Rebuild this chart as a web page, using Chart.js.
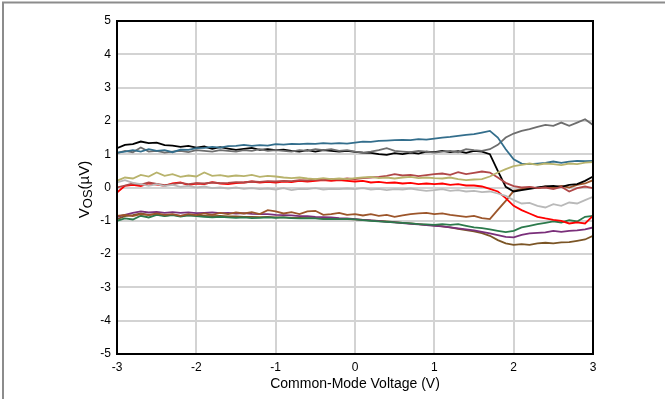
<!DOCTYPE html>
<html>
<head>
<meta charset="utf-8">
<script src="https://cdn.jsdelivr.net/npm/chart.js@4.4.1/dist/chart.umd.min.js"></script>
<style>
  body{margin:0;background:#fff;}
  #wrap{width:665px;height:399px;position:relative;}
</style>
</head>
<body>
<div id="wrap"><canvas id="c" width="665" height="399"></canvas></div>
<script>
// common-mode voltage (V), one sample every 0.1 V
const vcm=[-3.0,-2.9,-2.8,-2.7,-2.6,-2.5,-2.4,-2.3,-2.2,-2.1,-2.0,-1.9,-1.8,-1.7,-1.6,-1.5,-1.4,-1.3,-1.2,-1.1,
  -1.0,-0.9,-0.8,-0.7,-0.6,-0.5,-0.4,-0.3,-0.2,-0.1,0.0,0.1,0.2,0.3,0.4,0.5,0.6,0.7,0.8,0.9,
  1.0,1.1,1.2,1.3,1.4,1.5,1.6,1.7,1.8,1.9,2.0,2.1,2.2,2.3,2.4,2.5,2.6,2.7,2.8,2.9,3.0];

// Vos (uV) of each unit
const unitBlack=[1.18,1.28,1.30,1.38,1.33,1.35,1.27,1.26,1.22,1.25,1.20,1.23,1.16,1.21,1.17,1.13,1.16,1.19,1.13,1.15,
  1.12,1.14,1.10,1.08,1.12,1.08,1.12,1.10,1.08,1.10,1.07,1.05,1.04,1.00,0.98,1.03,1.00,1.05,1.02,1.08,
  1.06,1.10,1.06,1.09,1.04,1.10,1.08,1.00,0.50,0.02,-0.12,-0.08,-0.04,0.00,0.03,0.05,0.02,0.08,0.10,0.20,0.33];
const unitGray=[1.03,1.10,1.06,1.20,1.08,1.10,1.05,1.08,1.10,1.06,1.12,1.10,1.08,1.12,1.10,1.08,1.12,1.10,1.15,1.10,
  1.12,1.10,1.08,1.12,1.10,1.15,1.12,1.15,1.10,1.12,1.08,1.05,1.08,1.12,1.18,1.10,1.08,1.06,1.10,1.08,
  1.05,1.08,1.10,1.06,1.15,1.12,1.10,1.15,1.28,1.50,1.62,1.70,1.75,1.82,1.88,1.85,1.95,1.85,1.95,2.05,1.88];
const unitBlue=[1.05,1.08,1.12,1.08,1.15,1.10,1.12,1.06,1.14,1.13,1.18,1.19,1.22,1.20,1.24,1.25,1.28,1.25,1.27,1.26,
  1.30,1.29,1.31,1.30,1.32,1.31,1.33,1.32,1.33,1.32,1.35,1.38,1.37,1.40,1.41,1.42,1.43,1.42,1.45,1.44,
  1.47,1.50,1.52,1.55,1.58,1.60,1.65,1.70,1.50,1.15,0.85,0.72,0.70,0.72,0.74,0.78,0.74,0.78,0.80,0.79,0.80];
const unitOlive=[0.20,0.30,0.27,0.38,0.33,0.45,0.35,0.40,0.32,0.36,0.33,0.45,0.35,0.37,0.33,0.36,0.34,0.38,0.32,0.35,
  0.33,0.30,0.28,0.30,0.27,0.25,0.28,0.25,0.27,0.25,0.28,0.30,0.32,0.28,0.30,0.27,0.30,0.32,0.28,0.30,
  0.28,0.27,0.30,0.25,0.22,0.24,0.25,0.33,0.45,0.55,0.64,0.68,0.72,0.68,0.72,0.70,0.67,0.72,0.70,0.75,0.76];
const unitDarkRed=[0.00,0.06,0.12,0.09,0.15,0.11,0.07,0.10,0.14,0.10,0.13,0.12,0.15,0.13,0.14,0.16,0.15,0.18,0.17,0.19,
  0.18,0.20,0.19,0.22,0.21,0.24,0.22,0.25,0.24,0.27,0.25,0.28,0.30,0.32,0.35,0.40,0.36,0.38,0.34,0.37,
  0.40,0.42,0.38,0.46,0.40,0.44,0.48,0.45,0.30,0.14,0.04,0.00,0.02,-0.02,0.00,-0.05,0.02,-0.12,-0.02,0.03,-0.02];
const unitRed=[-0.15,0.05,0.08,0.04,0.12,0.09,0.05,0.12,0.15,0.07,0.12,0.10,0.16,0.12,0.10,0.13,0.15,0.18,0.15,0.17,
  0.15,0.18,0.16,0.20,0.18,0.20,0.22,0.20,0.22,0.20,0.18,0.20,0.15,0.17,0.14,0.15,0.12,0.14,0.10,0.12,
  0.10,0.12,0.08,0.10,0.06,0.06,0.03,-0.04,-0.12,-0.32,-0.55,-0.68,-0.78,-0.88,-0.93,-0.97,-1.00,-1.08,-1.05,-1.08,-0.85];
const unitLightGray=[0.15,0.22,0.14,0.10,0.05,0.10,0.04,0.08,0.02,0.05,0.00,0.03,-0.02,0.00,-0.03,0.00,-0.04,-0.02,-0.05,-0.03,
  -0.06,-0.02,-0.08,-0.04,-0.05,-0.02,-0.06,-0.04,-0.05,-0.03,-0.05,-0.02,-0.06,-0.04,-0.08,-0.05,-0.06,-0.03,-0.07,-0.10,
  -0.08,-0.05,-0.10,-0.08,-0.12,-0.10,-0.14,-0.12,-0.18,-0.25,-0.38,-0.48,-0.46,-0.55,-0.60,-0.50,-0.55,-0.45,-0.48,-0.38,-0.28];
const unitBrown=[-0.85,-0.82,-0.86,-0.80,-0.83,-0.78,-0.82,-0.80,-0.85,-0.80,-0.83,-0.78,-0.82,-0.76,-0.80,-0.75,-0.78,-0.74,-0.80,-0.68,
  -0.72,-0.78,-0.74,-0.80,-0.72,-0.70,-0.82,-0.80,-0.76,-0.82,-0.80,-0.84,-0.80,-0.85,-0.82,-0.88,-0.84,-0.80,-0.78,-0.76,
  -0.80,-0.78,-0.82,-0.85,-0.88,-0.85,-0.92,-0.95,-0.67,-0.40,-0.10,-0.05,0.00,-0.02,0.03,0.00,0.05,0.00,0.08,0.12,0.22];
const unitGreen=[-1.00,-0.93,-0.96,-0.85,-0.90,-0.82,-0.86,-0.83,-0.87,-0.84,-0.86,-0.88,-0.90,-0.88,-0.90,-0.91,-0.90,-0.92,-0.91,-0.90,
  -0.91,-0.90,-0.92,-0.93,-0.92,-0.93,-0.95,-0.94,-0.95,-0.94,-0.96,-0.98,-1.00,-1.02,-1.03,-1.05,-1.06,-1.08,-1.10,-1.11,
  -1.12,-1.10,-1.12,-1.10,-1.15,-1.20,-1.22,-1.26,-1.30,-1.34,-1.30,-1.20,-1.15,-1.10,-1.06,-1.02,-1.05,-0.98,-1.02,-0.88,-0.85];
const unitPurple=[-0.88,-0.82,-0.76,-0.72,-0.75,-0.73,-0.76,-0.74,-0.76,-0.75,-0.77,-0.76,-0.75,-0.77,-0.76,-0.78,-0.77,-0.79,-0.80,-0.80,
  -0.82,-0.83,-0.84,-0.86,-0.86,-0.88,-0.89,-0.90,-0.92,-0.93,-0.95,-0.97,-0.99,-1.01,-1.03,-1.05,-1.07,-1.09,-1.11,-1.13,
  -1.15,-1.17,-1.20,-1.23,-1.26,-1.29,-1.33,-1.38,-1.43,-1.48,-1.50,-1.42,-1.38,-1.36,-1.35,-1.30,-1.33,-1.30,-1.29,-1.26,-1.20];
const unitUmber=[-0.95,-0.86,-0.83,-0.78,-0.82,-0.80,-0.84,-0.82,-0.85,-0.83,-0.84,-0.85,-0.86,-0.85,-0.87,-0.87,-0.88,-0.88,-0.89,-0.88,
  -0.90,-0.90,-0.91,-0.91,-0.92,-0.92,-0.93,-0.93,-0.94,-0.95,-0.96,-0.97,-0.99,-1.00,-1.02,-1.04,-1.06,-1.08,-1.10,-1.12,
  -1.14,-1.17,-1.20,-1.24,-1.28,-1.32,-1.37,-1.45,-1.58,-1.68,-1.72,-1.70,-1.72,-1.68,-1.66,-1.68,-1.65,-1.64,-1.60,-1.56,-1.45];

const xTicks=[-3,-2,-1,0,1,2,3];
const yTicks=[-5,-4,-3,-2,-1,0,1,2,3,4,5];

const series=[
  {d:unitLightGray,c:"#b9b9b9"},
  {d:unitOlive,c:"#b8b36c"},
  {d:unitDarkRed,c:"#b04848"},
  {d:unitRed,c:"#ff0000"},
  {d:unitBlue,c:"#336e8c"},
  {d:unitGray,c:"#6e6e6e"},
  {d:unitBlack,c:"#000000"},
  {d:unitBrown,c:"#9c552a"},
  {d:unitGreen,c:"#2c7a4c"},
  {d:unitPurple,c:"#7a2f7a"},
  {d:unitUmber,c:"#7b5526"}
];

const FONT="'Liberation Sans', Arial, sans-serif";

// frame around plot + outer gray border + y title with subscript
const decor={
  id:"decor",
  beforeDraw(ch){
    const ctx=ch.ctx;
    ctx.save();
    ctx.strokeStyle="#8c8c8c"; ctx.lineWidth=2;
    ctx.beginPath();
    ctx.moveTo(3,399); ctx.lineTo(3,2.5); ctx.lineTo(665,2.5);
    ctx.stroke();
    ctx.restore();
  },
  afterDraw(ch){
    const ctx=ch.ctx, a=ch.chartArea;
    ctx.save();
    ctx.strokeStyle="#000"; ctx.lineWidth=2;
    ctx.strokeRect(a.left,a.top,a.right-a.left,a.bottom-a.top);
    // y title
    ctx.translate(85,(a.top+a.bottom)/2+2);
    ctx.rotate(-Math.PI/2);
    ctx.fillStyle="#000"; ctx.textBaseline="middle";
    const big="15px "+FONT, small="13px "+FONT;
    ctx.font=big; const w1=ctx.measureText("V").width, w3=ctx.measureText("(\u00b5V)").width;
    ctx.font=small; const w2=ctx.measureText("OS").width;
    let x=-(w1+w2+w3)/2;
    ctx.font=big; ctx.fillText("V",x,0); x+=w1;
    ctx.font=small; ctx.fillText("OS",x,3); x+=w2;
    ctx.font=big; ctx.fillText("(\u00b5V)",x,0);
    ctx.restore();
  }
};

new Chart(document.getElementById("c"),{
  type:"line",
  data:{datasets:series.map(s=>({
    data:s.d.map((v,i)=>({x:vcm[i],y:v})),
    borderColor:s.c,borderWidth:1.8,pointRadius:0,tension:0,fill:false
  }))},
  options:{
    responsive:false,animation:false,
    layout:{padding:{left:0,top:21,right:72,bottom:0}},
    plugins:{legend:{display:false},tooltip:{enabled:false}},
    scales:{
      x:{type:"linear",min:-3,max:3,
        afterBuildTicks:s=>{s.ticks=xTicks.map(v=>({value:v}));},
        afterFit:s=>{s.height=45;},
        grid:{color:"#d3d3d3",lineWidth:2,drawTicks:false},
        border:{display:false},
        ticks:{color:"#000",padding:6,font:{family:FONT,size:12},maxRotation:0},
        title:{display:true,text:"Common-Mode Voltage (V)",color:"#000",font:{family:FONT,size:14},padding:{top:0,bottom:6}}
      },
      y:{min:-5,max:5,
        afterBuildTicks:s=>{s.ticks=yTicks.map(v=>({value:v}));},
        afterFit:s=>{s.width=117;},
        grid:{color:"#d3d3d3",lineWidth:2,drawTicks:false},
        border:{display:false},
        ticks:{color:"#000",padding:6,font:{family:FONT,size:12}}
      }
    }
  },
  plugins:[decor]
});
</script>
</body>
</html>
